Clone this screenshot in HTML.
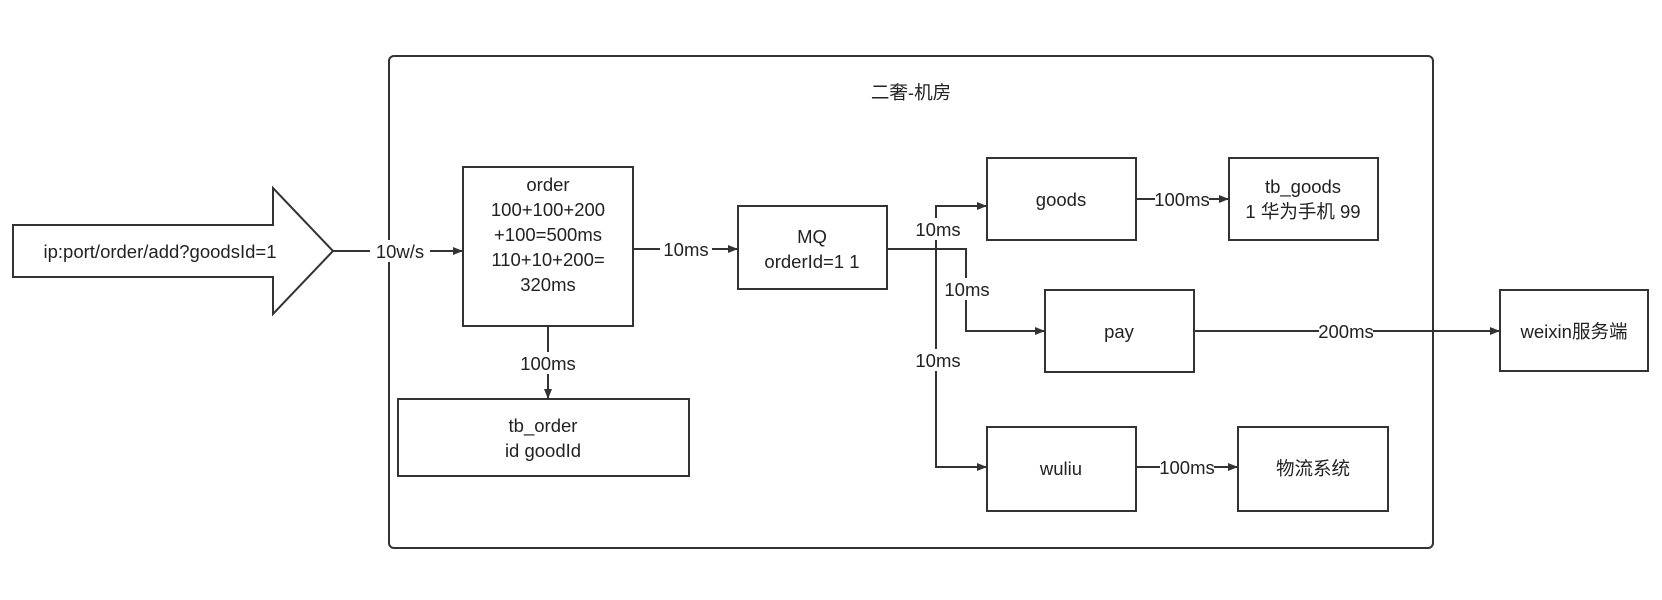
<!DOCTYPE html>
<html><head><meta charset="utf-8"><style>
html,body{margin:0;padding:0;background:#fff;}
svg{display:block;}
text{font-family:"Liberation Sans","Noto Sans CJK SC",sans-serif;font-size:18.5px;fill:#222;}
</style></head><body>
<svg width="1662" height="600" viewBox="0 0 1662 600" xmlns="http://www.w3.org/2000/svg">
<defs><marker id="a" markerWidth="10" markerHeight="8" refX="9" refY="4" orient="auto" markerUnits="userSpaceOnUse"><path d="M0,0 L10,4 L0,8 Z" fill="#333"/></marker></defs>
<g fill="#fff" stroke="#333" stroke-width="2">
<rect x="389" y="56" width="1044" height="492" rx="5"/>
<path d="M13,225 L273,225 L273,188 L333,251 L273,314 L273,277 L13,277 Z"/>
<rect x="463" y="167" width="170" height="159"/>
<rect x="398" y="399" width="291" height="77"/>
<rect x="738" y="206" width="149" height="83"/>
<rect x="987" y="158" width="149" height="82"/>
<rect x="1229" y="158" width="149" height="82"/>
<rect x="1045" y="290" width="149" height="82"/>
<rect x="1500" y="290" width="148" height="81"/>
<rect x="987" y="427" width="149" height="84"/>
<rect x="1238" y="427" width="150" height="84"/>
</g>
<g fill="none" stroke="#333" stroke-width="2" marker-end="url(#a)">
<path d="M333,251 L462,251"/>
<path d="M548,326 L548,398"/>
<path d="M633,249 L737,249"/>
<path d="M887,249 L966,249 L966,331 L1044,331"/>
<path d="M936,249 L936,206 L986,206"/>
<path d="M936,249 L936,467 L986,467"/>
<path d="M1136,199 L1228,199"/>
<path d="M1194,331 L1499,331"/>
<path d="M1136,467 L1237,467"/>
</g>
<g text-anchor="middle">
<text x="911" y="99">二奢-机房</text>
<text x="160" y="258">ip:port/order/add?goodsId=1</text>
<g fill="#fff" stroke="none">
<rect x="370" y="240" width="60" height="22"/><rect x="522" y="352" width="52" height="22"/>
<rect x="660" y="238" width="52" height="22"/><rect x="910" y="218" width="54" height="22"/>
<rect x="940" y="278" width="54" height="22"/><rect x="910" y="349" width="54" height="22"/>
<rect x="1155" y="188" width="54" height="22"/><rect x="1319" y="320" width="54" height="22"/>
<rect x="1160" y="456" width="54" height="22"/>
</g>
<text x="400" y="258">10w/s</text>
<text x="548" y="370">100ms</text>
<text x="686" y="256">10ms</text>
<text x="938" y="236">10ms</text>
<text x="967" y="296">10ms</text>
<text x="938" y="367">10ms</text>
<text x="1182" y="206">100ms</text>
<text x="1346" y="338">200ms</text>
<text x="1187" y="474">100ms</text>
<text x="548" y="191">order</text>
<text x="548" y="216">100+100+200</text>
<text x="548" y="241">+100=500ms</text>
<text x="548" y="266">110+10+200=</text>
<text x="548" y="291">320ms</text>
<text x="543" y="432">tb_order</text>
<text x="543" y="457">id goodId</text>
<text x="812" y="243">MQ</text>
<text x="812" y="268">orderId=1 1</text>
<text x="1061" y="206">goods</text>
<text x="1303" y="193">tb_goods</text>
<text x="1303" y="218">1 华为手机 99</text>
<text x="1119" y="338">pay</text>
<text x="1574" y="338">weixin服务端</text>
<text x="1061" y="475">wuliu</text>
<text x="1313" y="475">物流系统</text>
</g>
</svg>
</body></html>
